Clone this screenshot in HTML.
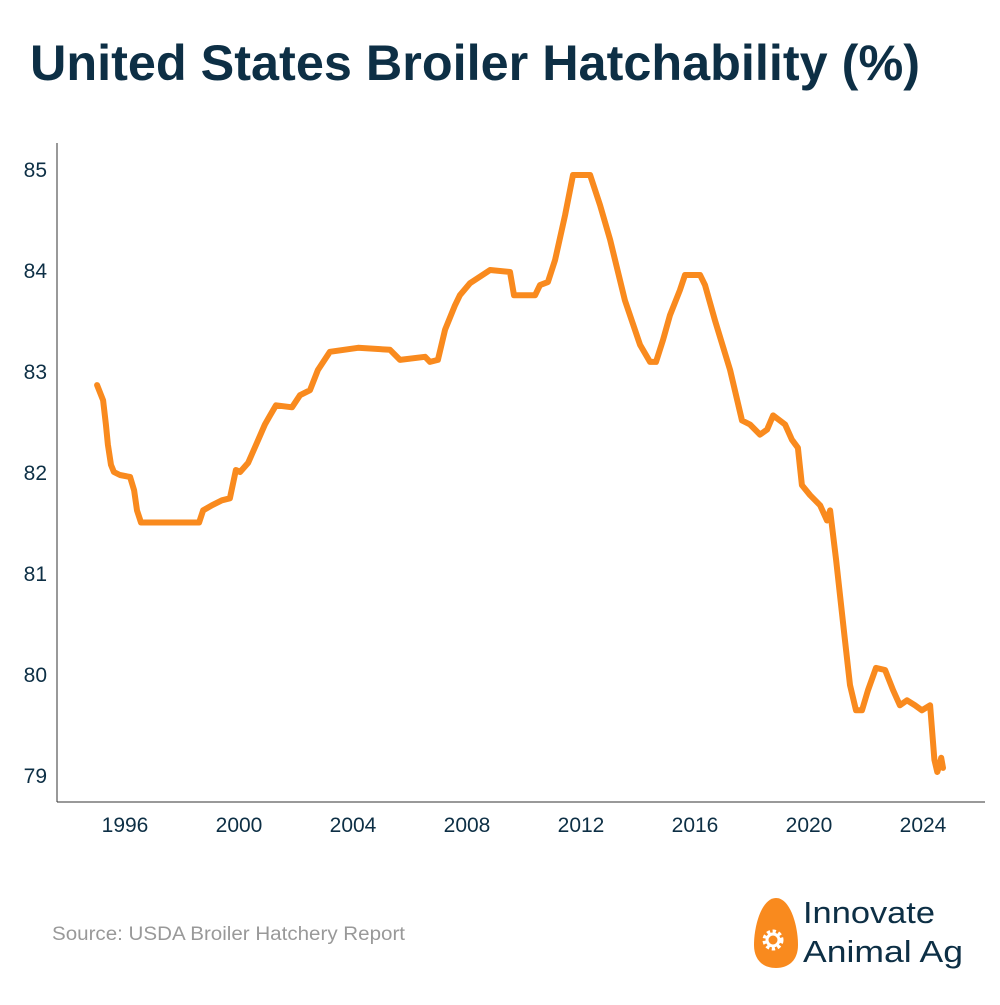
<!DOCTYPE html>
<html><head><meta charset="utf-8"><style>
body{margin:0;background:#fff;width:1000px;height:1000px;overflow:hidden;font-family:"Liberation Sans",sans-serif}
</style></head><body>
<svg id="chart" width="1000" height="1000" xmlns="http://www.w3.org/2000/svg">
<text x="30" y="80" font-size="50" font-weight="bold" fill="#0d2f45" font-family="Liberation Sans, sans-serif" textLength="890" lengthAdjust="spacingAndGlyphs">United States Broiler Hatchability (%)</text>
<line x1="57" y1="143" x2="57" y2="802" stroke="#333" stroke-width="1"/>
<line x1="57" y1="802" x2="985" y2="802" stroke="#333" stroke-width="1"/>
<g id="ticks"></g>
<path id="series" fill="none" stroke="#f98a1e" stroke-width="6" stroke-linejoin="round" stroke-linecap="round"/>
<text x="52" y="940" font-size="19" fill="#999" textLength="353" lengthAdjust="spacingAndGlyphs">Source: USDA Broiler Hatchery Report</text>
<g>
<path d="M776,898 C790,898 798,925 798,945 C798,960 789,968 776,968 C763,968 754,960 754,945 C754,925 762,898 776,898 Z" fill="#f98a1e"/>
<circle cx="773" cy="940" r="8" fill="none" stroke="#fff" stroke-width="5" stroke-dasharray="3 2.3"/>
<circle cx="773" cy="940" r="6" fill="none" stroke="#fff" stroke-width="3"/>
<text x="803" y="923" font-size="31" fill="#0d2f45" textLength="132" lengthAdjust="spacingAndGlyphs">Innovate</text>
<text x="803" y="962" font-size="31" fill="#0d2f45" textLength="160" lengthAdjust="spacingAndGlyphs">Animal Ag</text>
</g>
</svg>
<script>
const years=[1995.02,1995.23,1995.33,1995.40,1995.51,1995.61,1995.82,1996.18,1996.32,1996.42,1996.56,1998.60,1998.74,1999.05,1999.40,1999.68,1999.89,2000.04,2000.32,2000.60,2000.91,2001.09,2001.30,2001.86,2002.14,2002.49,2002.77,2003.19,2004.18,2005.30,2005.65,2006.53,2006.70,2006.98,2007.23,2007.58,2007.75,2008.11,2008.81,2009.51,2009.65,2010.39,2010.56,2010.84,2011.09,2011.44,2011.72,2012.32,2012.67,2013.02,2013.54,2014.07,2014.42,2014.63,2014.88,2015.12,2015.47,2015.65,2016.18,2016.35,2016.70,2017.23,2017.65,2017.93,2018.28,2018.53,2018.74,2019.16,2019.40,2019.61,2019.75,2020.04,2020.39,2020.63,2020.74,2020.95,2021.26,2021.44,2021.65,2021.86,2022.07,2022.35,2022.67,2022.95,2023.19,2023.44,2023.72,2023.96,2024.25,2024.40,2024.50,2024.58,2024.64,2024.70];
const values=[82.87,82.72,82.48,82.28,82.08,82.01,81.98,81.96,81.83,81.63,81.51,81.51,81.63,81.68,81.73,81.75,82.03,82.01,82.10,82.28,82.48,82.57,82.67,82.65,82.77,82.82,83.02,83.20,83.24,83.22,83.12,83.15,83.10,83.12,83.42,83.66,83.76,83.88,84.01,83.99,83.76,83.76,83.86,83.89,84.11,84.55,84.95,84.95,84.65,84.31,83.71,83.27,83.10,83.10,83.32,83.56,83.81,83.96,83.96,83.86,83.51,83.02,82.52,82.48,82.38,82.43,82.57,82.48,82.33,82.25,81.88,81.78,81.68,81.53,81.63,81.14,80.35,79.90,79.65,79.65,79.85,80.07,80.05,79.85,79.70,79.75,79.70,79.65,79.70,79.16,79.04,79.11,79.18,79.08];
const yTicks=[79,80,81,82,83,84,85];
const xTicks=[1996,2000,2004,2008,2012,2016,2020,2024];
const X=y=>125+(y-1996)*28.5;
const Y=v=>170+(85-v)*101;
const ns="http://www.w3.org/2000/svg";
const g=document.getElementById('ticks');
yTicks.forEach(t=>{
  const tx=document.createElementNS(ns,'text');
  
  
  tx.setAttribute('x',47);tx.setAttribute('y',Y(t)+7);
  tx.setAttribute('text-anchor','end');tx.setAttribute('font-size','21');tx.setAttribute('fill','#0d2f45');
  tx.textContent=t;g.appendChild(tx);
});
xTicks.forEach(t=>{
  const tx=document.createElementNS(ns,'text');
  
  
  tx.setAttribute('x',X(t));tx.setAttribute('y',832);
  tx.setAttribute('text-anchor','middle');tx.setAttribute('font-size','21');tx.setAttribute('fill','#0d2f45');
  tx.textContent=t;g.appendChild(tx);
});
document.getElementById('series').setAttribute('d',years.map((y,i)=>(i?'L':'M')+X(y).toFixed(1)+','+Y(values[i]).toFixed(1)).join(''));
</script>
</body></html>
